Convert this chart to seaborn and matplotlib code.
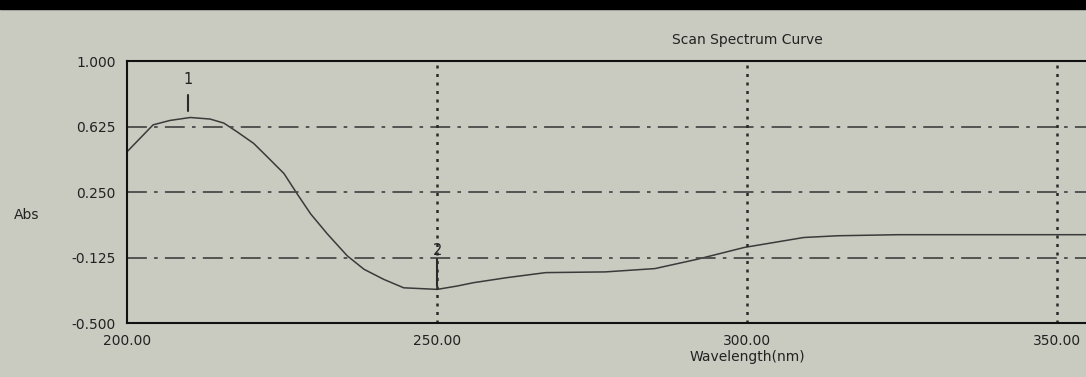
import matplotlib
matplotlib.use("Agg")
import matplotlib.pyplot as plt
import matplotlib.transforms as mtransforms
import seaborn as sns
import pandas as pd

wavelength = [200.0, 202.1, 204.2, 206.9, 210.2, 213.4, 215.6, 217.7, 220.4, 222.6,
              225.3, 227.4, 229.6, 232.3, 235.5, 238.2, 241.4, 244.6, 250.0, 253.2,
              255.8, 261.2, 267.5, 277.1, 285.1, 292.0, 299.5, 309.1, 314.6, 324.4, 354.6]
absorbance = [0.481, 0.558, 0.635, 0.660, 0.677, 0.668, 0.645, 0.596, 0.529, 0.452,
              0.356, 0.241, 0.125, 0.010, -0.115, -0.192, -0.250, -0.298, -0.307, -0.288,
              -0.269, -0.240, -0.211, -0.207, -0.188, -0.134, -0.067, -0.010, 0.000, 0.006, 0.006]

y_ticks = [1.000, 0.625, 0.250, -0.125, -0.500]
x_ticks = [200, 250, 300, 350]
peak_labels = ["1", "2"]
peak_x = [209.8, 250.0]

df = pd.DataFrame({"wl": wavelength, "abs": absorbance})

sns.set_style("white")
plt.rcParams["font.family"] = ["DejaVu Sans"]
bg = "#c9cbc0"

fig = plt.figure(figsize=(10.86, 3.77), dpi=100, facecolor=bg)
ax = fig.add_axes([0.117, 0.143, 0.883, 0.695])
ax.set_facecolor(bg)

# Curva
sns.lineplot(data=df, x="wl", y="abs", ax=ax, color="#3a3a3a", linewidth=1.1)

ax.set_xlim(200, 354.6)
ax.set_ylim(-0.5, 1.0)

# Rejilla
for v in y_ticks[1:-1]:
    ax.axhline(v, color="#4a4a4a", linewidth=1.3, dashes=(11, 4, 2, 4))
for v in x_ticks[1:]:
    ax.axvline(v, color="#2a2a2a", linewidth=1.8, dashes=(1.2, 2.2))

# Marcas de picos
ax.plot([peak_x[0], peak_x[0]], [0.712, 0.808], color="#2a2a2a", linewidth=1.5)
ax.text(peak_x[0], 0.894, peak_labels[0], ha="center", va="center", fontsize=10.5, color="#222222")
ax.plot([peak_x[1], peak_x[1]], [-0.29, -0.135], color="#2a2a2a", linewidth=1.5)
ax.text(peak_x[1], -0.086, peak_labels[1], ha="center", va="center", fontsize=10.5, color="#222222")

ax.set_xticks(x_ticks)
ax.set_xticklabels([f"{v:.2f}" for v in x_ticks])
ax.set_yticks(y_ticks)
ax.set_yticklabels([f"{v:.3f}" for v in y_ticks])
ax.tick_params(axis="both", length=0, labelsize=10, colors="#222222", pad=8)
ax.tick_params(axis="x", pad=8)

for s in ["left", "bottom", "top"]:
    ax.spines[s].set_color("#111111")
    ax.spines[s].set_linewidth(1.5)
ax.spines["right"].set_visible(False)

ax.set_xlabel("")
ax.set_ylabel("")
trans = mtransforms.blended_transform_factory(ax.transData, fig.transFigure)
ax.text(300, 0.053, "Wavelength(nm)", transform=trans, fontsize=10, color="#222222",
        ha="center", va="center")
fig.text(0.013, 0.43, "Abs", fontsize=10, color="#222222", ha="left", va="center")
fig.text(0.688, 0.895, "Scan Spectrum Curve", fontsize=10, color="#222222", ha="center", va="center")

# Banda negra superior de la foto
fig.patches.append(plt.Rectangle((0, 0.975), 1, 0.025, transform=fig.transFigure,
                                 color="black", zorder=10))

fig.savefig("out.png", dpi=100, facecolor=bg)
